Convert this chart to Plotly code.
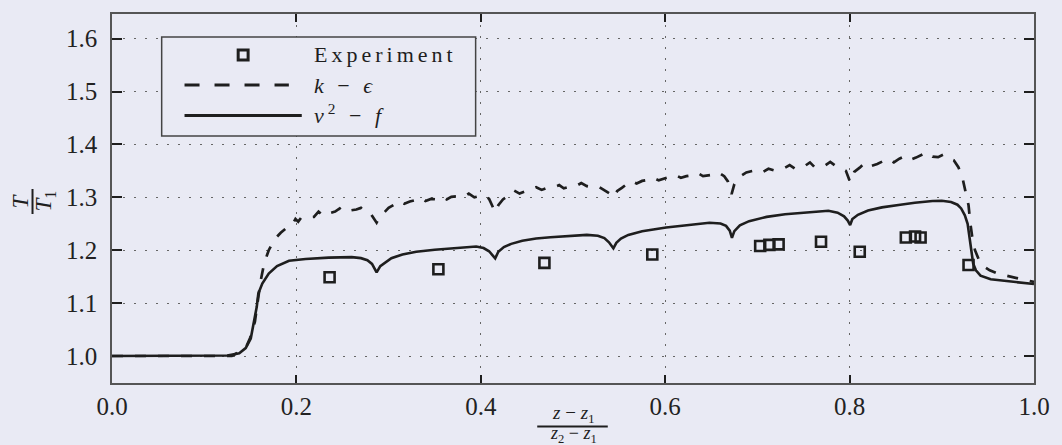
import plotly.graph_objects as go

# ---- measured temperature ratio ----
exp_x = [0.236, 0.354, 0.469, 0.586, 0.703, 0.713, 0.723, 0.769, 0.811, 0.861, 0.871, 0.877, 0.929]
exp_t = [1.149, 1.164, 1.176, 1.192, 1.208, 1.210, 1.211, 1.216, 1.197, 1.224, 1.226, 1.224, 1.172]

# ---- k - epsilon prediction ----
ke_x = [0.000, 0.130, 0.145, 0.150, 0.155, 0.159, 0.161, 0.165, 0.170, 0.176, 0.183, 0.190, 0.196,
        0.199, 0.202, 0.205, 0.212, 0.219, 0.224, 0.229, 0.236, 0.242, 0.247, 0.252, 0.258, 0.265,
        0.270, 0.276, 0.281, 0.285, 0.287, 0.290, 0.295, 0.300, 0.307, 0.312, 0.317, 0.323, 0.330,
        0.335, 0.340, 0.346, 0.352, 0.358, 0.363, 0.368, 0.375, 0.382, 0.387, 0.393, 0.398, 0.404,
        0.409, 0.413, 0.4156, 0.419, 0.424, 0.430, 0.436, 0.442, 0.448, 0.455, 0.460, 0.466, 0.472,
        0.479, 0.485, 0.490, 0.496, 0.503, 0.509, 0.515, 0.521, 0.528, 0.534, 0.540, 0.5438, 0.548,
        0.553, 0.558, 0.563, 0.569, 0.575, 0.582, 0.587, 0.593, 0.599, 0.605, 0.611, 0.617, 0.623,
        0.630, 0.635, 0.641, 0.647, 0.653, 0.658, 0.664, 0.668, 0.672, 0.675, 0.680, 0.688, 0.694,
        0.700, 0.706, 0.712, 0.718, 0.724, 0.730, 0.735, 0.741, 0.747, 0.752, 0.757, 0.762, 0.768,
        0.774, 0.779, 0.785, 0.790, 0.796, 0.8006, 0.805, 0.811, 0.817, 0.823, 0.830, 0.836, 0.842,
        0.848, 0.854, 0.860, 0.866, 0.872, 0.878, 0.884, 0.890, 0.896, 0.902, 0.908, 0.913, 0.918,
        0.922, 0.926, 0.929, 0.931, 0.933, 0.936, 0.940, 0.945, 0.952, 0.962, 0.975, 0.990, 1.000]
ke_t = [1.000, 1.000, 1.015, 1.035, 1.065, 1.110, 1.140, 1.175, 1.200, 1.220, 1.233, 1.243, 1.250,
        1.259, 1.254, 1.261, 1.262, 1.263, 1.273, 1.265, 1.270, 1.273, 1.279, 1.272, 1.275, 1.277,
        1.280, 1.270, 1.268, 1.258, 1.252, 1.262, 1.272, 1.280, 1.287, 1.293, 1.288, 1.292, 1.295,
        1.299, 1.293, 1.297, 1.296, 1.301, 1.296, 1.301, 1.302, 1.301, 1.307, 1.300, 1.302, 1.304,
        1.297, 1.282, 1.272, 1.285, 1.296, 1.303, 1.313, 1.307, 1.311, 1.315, 1.319, 1.314, 1.318,
        1.319, 1.323, 1.317, 1.320, 1.321, 1.327, 1.321, 1.319, 1.320, 1.313, 1.307, 1.300, 1.312,
        1.318, 1.324, 1.331, 1.326, 1.331, 1.333, 1.337, 1.332, 1.335, 1.338, 1.342, 1.337, 1.340,
        1.342, 1.346, 1.340, 1.342, 1.343, 1.347, 1.340, 1.330, 1.306, 1.325, 1.338, 1.347, 1.350,
        1.352, 1.348, 1.354, 1.351, 1.354, 1.356, 1.361, 1.354, 1.358, 1.360, 1.366, 1.357, 1.360,
        1.361, 1.367, 1.359, 1.356, 1.350, 1.329, 1.348, 1.356, 1.366, 1.359, 1.363, 1.368, 1.373,
        1.366, 1.373, 1.378, 1.371, 1.375, 1.380, 1.385, 1.377, 1.376, 1.381, 1.374, 1.370, 1.357,
        1.340, 1.310, 1.285, 1.250, 1.225, 1.200, 1.183, 1.170, 1.162, 1.155, 1.150, 1.143, 1.140]

# ---- v2 - f prediction ----
v2f_x = [0.000, 0.100, 0.125, 0.138, 0.145, 0.1505, 0.154, 0.157, 0.1587, 0.163, 0.170, 0.179, 0.192,
         0.210, 0.235, 0.260, 0.270, 0.277, 0.282, 0.287, 0.291, 0.296, 0.303, 0.315, 0.330, 0.350,
         0.375, 0.395, 0.403, 0.409, 0.4156, 0.419, 0.425, 0.433, 0.445, 0.460, 0.4756, 0.495, 0.515,
         0.527, 0.534, 0.539, 0.5438, 0.547, 0.552, 0.560, 0.575, 0.601, 0.625, 0.648, 0.660, 0.666,
         0.670, 0.6724, 0.675, 0.681, 0.691, 0.710, 0.730, 0.755, 0.777, 0.787, 0.794, 0.798, 0.8006,
         0.803, 0.809, 0.820, 0.835, 0.855, 0.8707, 0.890, 0.900, 0.910, 0.917, 0.921, 0.925, 0.928,
         0.930, 0.932, 0.934, 0.937, 0.942, 0.953, 0.978, 1.000]
v2f_t = [1.000, 1.000, 1.001, 1.005, 1.015, 1.033, 1.062, 1.093, 1.118, 1.137, 1.156, 1.170, 1.180,
         1.1834, 1.186, 1.187, 1.185, 1.181, 1.174, 1.158, 1.170, 1.177, 1.185, 1.192, 1.197, 1.201,
         1.2045, 1.207, 1.204, 1.198, 1.1846, 1.197, 1.206, 1.212, 1.218, 1.222, 1.2244, 1.227, 1.229,
         1.2275, 1.223, 1.215, 1.2036, 1.214, 1.222, 1.229, 1.236, 1.243, 1.248, 1.252, 1.2505, 1.246,
         1.237, 1.2235, 1.236, 1.247, 1.255, 1.263, 1.268, 1.2715, 1.2745, 1.271, 1.264, 1.256, 1.2476,
         1.259, 1.267, 1.275, 1.281, 1.286, 1.2898, 1.293, 1.2936, 1.291, 1.286, 1.279, 1.266, 1.250,
         1.222, 1.192, 1.175, 1.162, 1.152, 1.145, 1.1405, 1.136]

x_ticks = [0.0, 0.2, 0.4, 0.6, 0.8, 1.0]
y_ticks = [1.0, 1.1, 1.2, 1.3, 1.4, 1.5, 1.6]
legend_labels = ["Experiment", "<i>k</i> − <i>ϵ</i>", "<i>v</i><sup>2</sup> − <i>f</i>"]

# ---- figure geometry (pixels) ----
W, H = 1062, 445
L, R, T, B = 112, 1040, 14, 383
BG = "#e9eaf4"
INK = "#1e1e1e"
FONT = "'Liberation Serif', 'Times New Roman', 'DejaVu Serif', serif"


def px(xp):
    return (xp - L) / (R - L)


def py(yp):
    return (B - yp) / (B - T)


fig = go.Figure()

fig.add_trace(go.Scatter(x=ke_x, y=ke_t, mode="lines",
                         line=dict(color=INK, width=2.7, dash="11px,12px"),
                         showlegend=False))
fig.add_trace(go.Scatter(x=v2f_x, y=v2f_t, mode="lines",
                         line=dict(color=INK, width=2.6),
                         showlegend=False))
fig.add_trace(go.Scatter(x=exp_x, y=exp_t, mode="markers",
                         marker=dict(symbol="square-open", size=10, color=INK,
                                     line=dict(width=2.6, color=INK)),
                         showlegend=False))

shapes = []
annotations = []

# legend box
shapes.append(dict(type="rect", xref="paper", yref="paper", layer="above",
                   x0=px(162), x1=px(478), y0=py(136), y1=py(37),
                   line=dict(color="#444", width=1.5), fillcolor=BG))
# legend samples
shapes.append(dict(type="rect", xref="paper", yref="paper", layer="above",
                   x0=px(239), x1=px(249), y0=py(60), y1=py(50),
                   line=dict(color=INK, width=3), fillcolor="rgba(0,0,0,0)"))
shapes.append(dict(type="line", xref="paper", yref="paper", layer="above",
                   x0=px(185), x1=px(290), y0=py(85), y1=py(85),
                   line=dict(color=INK, width=3, dash="15px,15px")))
shapes.append(dict(type="line", xref="paper", yref="paper", layer="above",
                   x0=px(185), x1=px(303), y0=py(115.5), y1=py(115.5),
                   line=dict(color=INK, width=3)))
for lbl, yp in zip(legend_labels, [54, 85, 114]):
    annotations.append(dict(xref="paper", yref="paper", x=px(313), y=py(yp),
                            xanchor="left", yanchor="middle", showarrow=False,
                            text=f'<span style="letter-spacing:4px">{lbl}</span>',
                            font=dict(family=FONT, size=22, color=INK)))

# y-axis title: T / T1 written as a rotated fraction
annotations.append(dict(xref="paper", yref="paper", x=px(19), y=py(201),
                        xanchor="center", yanchor="middle", showarrow=False,
                        textangle=-90, text="<i>T</i>",
                        font=dict(family=FONT, size=23, color=INK)))
annotations.append(dict(xref="paper", yref="paper", x=px(45), y=py(201),
                        xanchor="center", yanchor="middle", showarrow=False,
                        textangle=-90, text="<i>T</i><sub>1</sub>",
                        font=dict(family=FONT, size=23, color=INK)))
shapes.append(dict(type="line", xref="paper", yref="paper", layer="above",
                   x0=px(32), x1=px(32), y0=py(189), y1=py(214),
                   line=dict(color=INK, width=2)))

# x-axis title: (z - z1) / (z2 - z1)
annotations.append(dict(xref="paper", yref="paper", x=px(576), y=py(414),
                        xanchor="center", yanchor="middle", showarrow=False,
                        text="<i>z</i> − <i>z</i><sub>1</sub>",
                        font=dict(family=FONT, size=19, color=INK)))
annotations.append(dict(xref="paper", yref="paper", x=px(576), y=py(435),
                        xanchor="center", yanchor="middle", showarrow=False,
                        text="<i>z</i><sub>2</sub> − <i>z</i><sub>1</sub>",
                        font=dict(family=FONT, size=18, color=INK)))
shapes.append(dict(type="line", xref="paper", yref="paper", layer="above",
                   x0=px(540), x1=px(611), y0=py(426.5), y1=py(426.5),
                   line=dict(color=INK, width=2)))

axis_common = dict(
    showline=True, linecolor="#555", linewidth=1.5, mirror="ticks",
    ticks="inside", tickcolor=INK, zeroline=False,
    showgrid=True, gridcolor="#666", gridwidth=1, griddash="1.5px,9.5px",
    tickfont=dict(family=FONT, size=25, color="#222"),
    tickformat=".1f",
)

fig.update_layout(
    width=W, height=H,
    margin=dict(l=L, r=W - R, t=T, b=H - B, pad=0),
    paper_bgcolor=BG, plot_bgcolor=BG,
    showlegend=False,
    xaxis=dict(range=[0, 1], tickvals=x_ticks, ticklen=8, tickwidth=1.5, **axis_common),
    yaxis=dict(range=[0.949, 1.6465], tickvals=y_ticks, ticklen=10, tickwidth=2,
               ticklabelstandoff=8, **axis_common),
    shapes=shapes,
    annotations=annotations,
)

fig.write_html("out.html")
